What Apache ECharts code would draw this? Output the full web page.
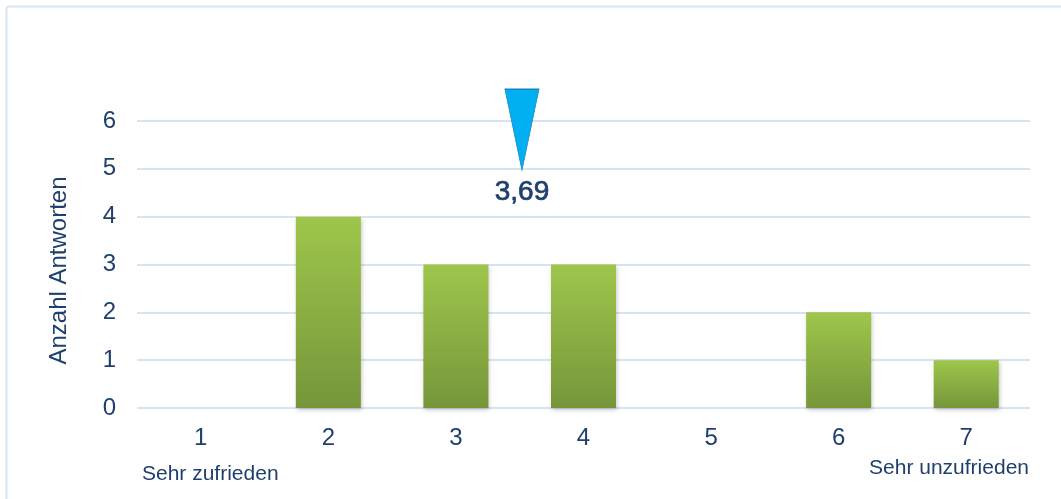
<!DOCTYPE html>
<html>
<head>
<meta charset="utf-8">
<script src="https://cdn.jsdelivr.net/npm/echarts@6/dist/echarts.min.js"></script>
<style>
  html, body { margin: 0; padding: 0; background: #ffffff; }
  #chart { width: 1061px; height: 499px; }
</style>
</head>
<body>
<div id="chart"></div>
<script>
// Rating scale 1..7 and number of answers per rating
const categories = ['1', '2', '3', '4', '5', '6', '7'];
const answers = [0, 4, 3, 3, 0, 2, 1];
const yTicks = [0, 1, 2, 3, 4, 5, 6];
// Mean rating shown by the pointer
const meanValue = 3.69;
const meanLabel = '3,69';
const leftCaption = 'Sehr zufrieden';
const rightCaption = 'Sehr unzufrieden';
const yTitle = 'Anzahl Antworten';

const textColor = '#1f3f6d';
const fontFamily = '"Liberation Sans", Arial, sans-serif';

const chart = echarts.init(document.getElementById('chart'), null, { renderer: 'canvas' });

chart.setOption({
  animation: false,
  backgroundColor: '#ffffff',
  textStyle: { fontFamily: fontFamily },
  grid: { left: 137, right: 31, top: 121, bottom: 91 },
  graphic: [
    {
      type: 'rect',
      shape: { x: 6.5, y: 6.5, width: 1100, height: 600, r: 3 },
      style: { fill: 'none', stroke: '#d9e6f6', lineWidth: 2 },
      silent: true
    },
    {
      type: 'text',
      left: 142, top: 464,
      style: { text: leftCaption, fill: textColor, font: '21px ' + fontFamily }
    },
    {
      type: 'text',
      right: 32, top: 458,
      style: { text: rightCaption, fill: textColor, font: '21px ' + fontFamily, textAlign: 'right' }
    }
  ],
  xAxis: [
    {
      type: 'category',
      data: categories,
      axisLine: { show: false },
      axisTick: { show: false },
      axisLabel: { color: textColor, fontSize: 24, margin: 18, fontFamily: fontFamily },
      splitLine: { show: false }
    },
    {
      // continuous scale for placing the mean pointer
      type: 'value',
      min: 0.5,
      max: 7.9,
      show: false
    }
  ],
  yAxis: {
    type: 'value',
    min: yTicks[0],
    max: yTicks[yTicks.length - 1],
    interval: 1,
    name: yTitle,
    nameLocation: 'middle',
    nameGap: 66,
    nameTextStyle: { color: textColor, fontSize: 24, fontFamily: fontFamily, padding: [0, 12, 0, 0] },
    axisLine: { show: false },
    axisTick: { show: false },
    axisLabel: { color: textColor, fontSize: 24, margin: 21, fontFamily: fontFamily },
    splitLine: { lineStyle: { color: '#d7e3f2', width: 2 } }
  },
  series: [
    {
      type: 'bar',
      data: answers,
      barWidth: 65,
      itemStyle: {
        color: new echarts.graphic.LinearGradient(0, 0, 0, 1, [
          { offset: 0, color: '#9ec64b' },
          { offset: 1, color: '#76963a' }
        ]),
        shadowColor: 'rgba(0,0,0,0.22)',
        shadowBlur: 4,
        shadowOffsetX: 1,
        shadowOffsetY: 2
      }
    },
    {
      type: 'scatter',
      xAxisIndex: 1,
      data: [[meanValue, 5]],
      symbol: 'path://M0,0 L34,0 L17,81 Z',
      symbolSize: [34, 81],
      symbolOffset: [0, -39],
      symbolKeepAspect: false,
      itemStyle: { color: '#00b0f0', borderColor: '#1784c2', borderWidth: 1, opacity: 1 },
      label: {
        show: true,
        formatter: meanLabel,
        position: 'inside',
        offset: [0, 62],
        color: textColor,
        fontSize: 28,
        fontWeight: 'normal',
        fontFamily: fontFamily,
        textBorderColor: textColor,
        textBorderWidth: 0.7
      },
      z: 5
    }
  ]
});
</script>
</body>
</html>
